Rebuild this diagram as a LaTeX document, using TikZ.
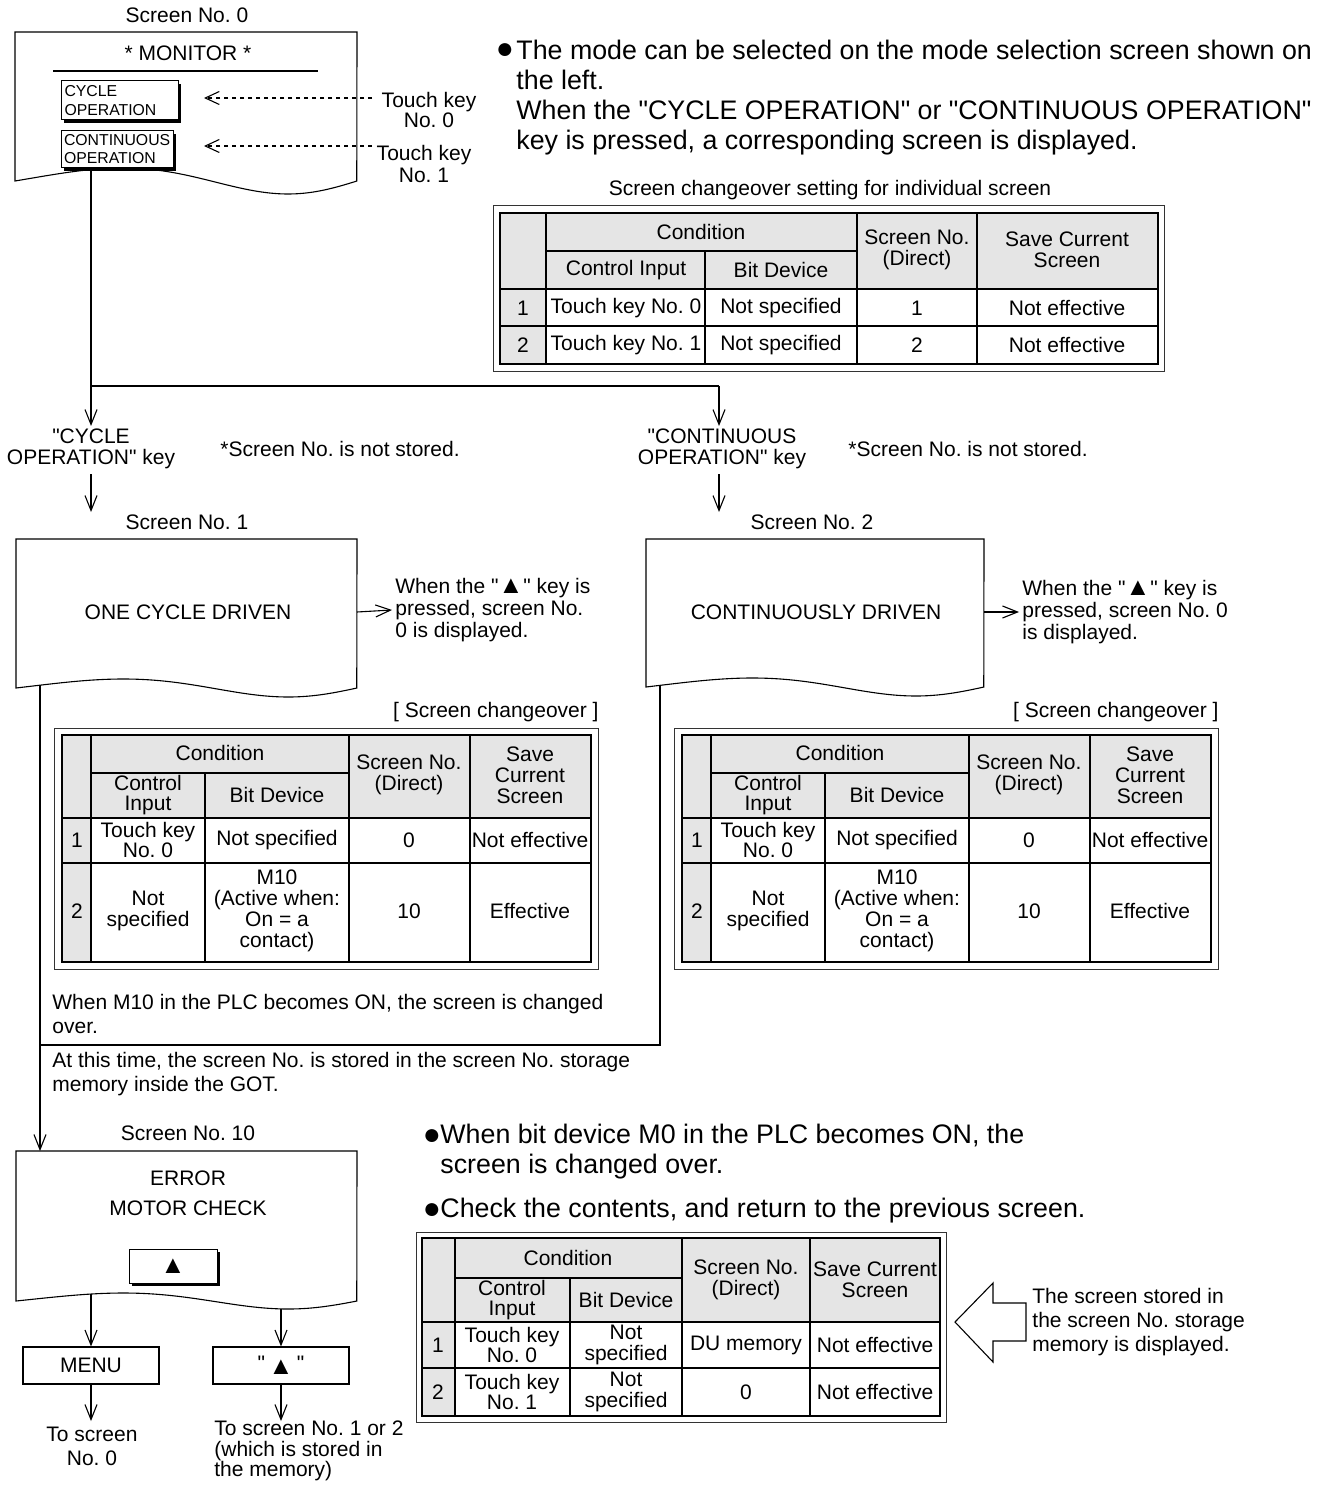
\documentclass[tikz,border=0pt]{standalone}
\usepackage{fontspec}
\setmainfont{Liberation Sans}[Ligatures=TeXOff]
\usetikzlibrary{arrows.meta,shadows}
\definecolor{hdr}{gray}{0.9}
\frenchspacing
\newcommand\fmid{\fontsize{10.5}{11}\selectfont}
\newcommand\fbig{\fontsize{13.4}{15}\selectfont}
\newcommand\fsmall{\fontsize{7.9}{9.5}\selectfont}
\newcommand\tri{{\fontsize{12.5}{11}\selectfont ▲}}
% screen outline with wavy bottom: x1 top x2 ybottom amplitude
\newcommand\screenbox[5]{%
  \draw[ln] plot[domain=0:1,samples=60,smooth] ({#1+(#3-#1)*\x},{#4-#5*sin(360*\x*(0.7+0.3*\x))}) -- (#3,#2) -- (#1,#2) -- cycle;}
\newcommand\midtable[2]{%
\begin{scope}[xshift=#2]
  \node[txt, anchor=east] (#1lab) at (599,712) {[ Screen changeover ]};
  \draw[tout] (54,728) rectangle (598,969);
  \fill[hdr] (62,735) rectangle (591,818);
  \fill[hdr] (62,818) rectangle (91,962);
  \draw[tg] (91,773) -- (349,773);
  \draw[tg] (62,818) -- (591,818);
  \draw[tg] (62,863) -- (591,863);
  \draw[tg] (91,735) -- (91,962);
  \draw[tg] (205,773) -- (205,962);
  \draw[tg] (349,735) -- (349,962);
  \draw[tg] (470,735) -- (470,962);
  \draw[tb] (62,735) rectangle (591,962);
  \node[cellt] (#1h1) at (220,753) {Condition};
  \node[cellt] (#1h2) at (148,795) {Control\\Input};
  \node[cellt] (#1h3) at (277,795) {Bit Device};
  \node[cellt] (#1h4) at (409,775) {Screen No.\\(Direct)};
  \node[cellt] (#1h5) at (530,775) {Save\\Current\\Screen};
  \node[cellt] (#1r1a) at (77,840) {1};
  \node[cellt] (#1r1b) at (148,840) {Touch key\\No. 0};
  \node[cellt] (#1r1c) at (277,840) {Not specified};
  \node[cellt] (#1r1d) at (409,840) {0};
  \node[cellt] (#1r1e) at (530,840) {Not effective};
  \node[cellt] (#1r2a) at (77,911) {2};
  \node[cellt] (#1r2b) at (148,911) {Not\\specified};
  \node[cellt] (#1r2c) at (277,911) {M10\\(Active when:\\On = a\\contact)};
  \node[cellt] (#1r2d) at (409,911) {10};
  \node[cellt] (#1r2e) at (530,911) {Effective};
\end{scope}}

\begin{document}
\begin{tikzpicture}[x=0.5pt,y=-0.5pt,
  ln/.style={line width=0.55pt},
  arr/.style={line width=0.55pt,-{Straight Barb[length=7.5pt,width=6pt]}},
  darr/.style={line width=0.55pt,dash pattern=on 2pt off 2pt,-{Straight Barb[length=7pt,width=6.5pt]}},
  txt/.style={inner sep=0pt,font=\fmid},
  txl/.style={inner sep=0pt,align=left},
  txc/.style={inner sep=0pt,align=center},
  cellt/.style={inner sep=0pt,align=center,font=\fontsize{10.5}{10.4}\selectfont},
  tb/.style={line width=0.8pt},
  tg/.style={line width=0.55pt},
  tout/.style={line width=0.5pt,draw=black!80},
  bul/.style={inner sep=0pt,font=\fontsize{15}{15}\selectfont},
  btn/.style={draw,fill=white,line width=0.5pt,drop shadow={shadow xshift=1.6pt,shadow yshift=-1.6pt,opacity=1,fill=black}},
  keybox/.style={draw,line width=0.55pt,minimum width=68pt,minimum height=18.5pt,inner sep=0pt,font=\fmid}
]
\useasboundingbox (0,0) rectangle (1337,1486);

% ---------------- Screen No. 0 ----------------
\node[txt] (lab0) at (187,15) {Screen No. 0};
\screenbox{15}{32}{357}{181}{13}
\node[txt] (mon) at (188,53) {* MONITOR *};
\draw[ln] (53,71) -- (318,71);
\node[btn,minimum width=58.5pt,minimum height=19.5pt,text width=55pt,align=left,inner sep=1.5pt,font=\fsmall] (btn1) at (119.5,100.5) {CYCLE\\OPERATION};
\node[btn,minimum width=56pt,minimum height=18.5pt,text width=53pt,align=left,inner sep=1.5pt,font=\fontsize{7.9}{9}\selectfont] (btn2) at (117,149.5) {CONTINUOUS\\OPERATION};
\node[txc,font=\fontsize{10.5}{10}\selectfont] (tk0) at (429,110) {Touch key\\No. 0};
\node[txc,font=\fontsize{10.5}{11}\selectfont] (tk1) at (424,164) {Touch key\\No. 1};
\coordinate (tk0s) at (372,98);
\coordinate (tk1s) at (372,146);
\coordinate (b1t) at (204,98);
\coordinate (b2t) at (204,146);
\draw[darr] (tk0s) -- (b1t);
\draw[darr] (tk1s) -- (b2t);

% ---------------- top right text and table ----------------
\node[bul] (bul0) at (505,51) {●};
\node[txl,anchor=west,font=\fbig] (intro) at (516,98) {The mode can be selected on the mode selection screen shown on\\the left.\\When the "CYCLE OPERATION" or "CONTINUOUS OPERATION"\\key is pressed, a corresponding screen is displayed.};
\node[txt] (t1title) at (830,190) {Screen changeover setting for individual screen};
\draw[tout] (493,206) rectangle (1164,372);
\fill[hdr] (500,213) rectangle (1158,289);
\fill[hdr] (500,289) rectangle (546,364);
\draw[tg] (546,251) -- (857,251);
\draw[tg] (500,289) -- (1158,289);
\draw[tg] (500,326) -- (1158,326);
\draw[tg] (546,213) -- (546,364);
\draw[tg] (705,251) -- (705,364);
\draw[tg] (857,213) -- (857,364);
\draw[tg] (977,213) -- (977,364);
\draw[tb] (500,213) rectangle (1158,364);
\node[cellt] (t1h1) at (701,232) {Condition};
\node[cellt] (t1h2) at (626,270) {Control Input};
\node[cellt] (t1h3) at (781,270) {Bit Device};
\node[cellt] (t1h4) at (917,250) {Screen No.\\(Direct)};
\node[cellt] (t1h5) at (1067,250) {Save Current\\Screen};
\node[cellt] (t1r1a) at (523,308) {1};
\node[cellt] (t1r1b) at (626,308) {Touch key No. 0};
\node[cellt] (t1r1c) at (781,308) {Not specified};
\node[cellt] (t1r1d) at (917,308) {1};
\node[cellt] (t1r1e) at (1067,308) {Not effective};
\node[cellt] (t1r2a) at (523,345) {2};
\node[cellt] (t1r2b) at (626,345) {Touch key No. 1};
\node[cellt] (t1r2c) at (781,345) {Not specified};
\node[cellt] (t1r2d) at (917,345) {2};
\node[cellt] (t1r2e) at (1067,345) {Not effective};

% ---------------- split ----------------
\coordinate (s0b) at (91,170);
\coordinate (sp) at (91,386);
\coordinate (spR) at (719,386);
\coordinate (ckin) at (91,426);
\coordinate (cckin) at (719,426);
\draw[ln] (s0b) -- (sp) -- (spR);
\draw[arr] (sp) -- (ckin);
\draw[arr] (spR) -- (cckin);
\node[txc,font=\fontsize{10.5}{10.5}\selectfont] (ck) at (91,449) {"CYCLE\\OPERATION" key};
\node[txt,anchor=west] (ns1) at (220,449) {*Screen No. is not stored.};
\node[txc,font=\fontsize{10.5}{10.5}\selectfont] (cck) at (722,449) {"CONTINUOUS\\OPERATION" key};
\node[txt,anchor=west] (ns2) at (848,449) {*Screen No. is not stored.};
\coordinate (ckout) at (91,474);
\coordinate (s1in) at (91,512);
\coordinate (cckout) at (719,474);
\coordinate (s2in) at (719,512);
\draw[arr] (ckout) -- (s1in);
\draw[arr] (cckout) -- (s2in);

% ---------------- Screen No. 1 / 2 ----------------
\node[txt] (lab1) at (187,522) {Screen No. 1};
\screenbox{16}{539}{357}{688}{9}
\node[txt] (one) at (188,612) {ONE CYCLE DRIVEN};
\node[txl,anchor=west,font=\fontsize{10.5}{11}\selectfont] (n1) at (395,610) {When the "\tri" key is\\pressed, screen No.\\0 is displayed.};
\coordinate (s1r) at (357,612);
\draw[arr] (s1r) -- ([xshift=-1.5pt]n1.west);

\node[txt] (lab2) at (812,522) {Screen No. 2};
\screenbox{646}{539}{984}{687}{9}
\node[txt] (cont) at (816,612) {CONTINUOUSLY DRIVEN};
\node[txl,anchor=west,font=\fontsize{10.5}{11}\selectfont] (n2) at (1022,612) {When the "\tri" key is\\pressed, screen No. 0\\is displayed.};
\coordinate (s2r) at (984,612);
\draw[arr] (s2r) -- ([xshift=-1.5pt]n2.west);

% ---------------- middle tables ----------------
\midtable{ma}{0pt}
\midtable{mb}{310pt}

\node[txl,anchor=west,font=\fontsize{10.5}{11.6}\selectfont] (m10) at (52,1014) {When M10 in the PLC becomes ON, the screen is changed\\over.};
\node[txl,anchor=west,font=\fontsize{10.5}{12}\selectfont] (att) at (52,1074) {At this time, the screen No. is stored in the screen No. storage\\memory inside the GOT.};

% connectors to screen 10
\coordinate (s1b) at (40,685);
\coordinate (s10in) at (40,1151);
\draw[arr] (s1b) -- (s10in);
\coordinate (s2b) at (660,685);
\coordinate (jn) at (660,1045);
\coordinate (jl) at (40,1045);
\draw[ln] (s2b) -- (jn) -- (jl);

% ---------------- Screen No. 10 ----------------
\node[txt] (lab10) at (188,1133) {Screen No. 10};
\screenbox{16}{1151}{357}{1301}{8}
\node[txc,font=\fontsize{10.5}{15}\selectfont] (err) at (188,1193) {ERROR\\MOTOR CHECK};
\node[btn,minimum width=44pt,minimum height=17pt,inner sep=0pt,font=\fmid] (upbtn) at (173,1266) {\tri};
\node[keybox] (menu) at (91,1365.5) {MENU};
\node[keybox] (trib) at (281,1365.5) {"\,\raisebox{-2pt}{\tri}\,"};
\coordinate (s10a) at (91,1294);
\coordinate (s10b) at (281,1309);
\draw[arr] (s10a) -- (menu.north);
\draw[arr] (s10b) -- (trib.north);
\coordinate (menuto) at (91,1421);
\coordinate (trito) at (281,1421);
\draw[arr] (menu.south) -- (menuto);
\draw[arr] (trib.south) -- (trito);
\node[txc,font=\fontsize{10.5}{12}\selectfont] (to0) at (92,1446) {To screen\\No. 0};
\node[txl,anchor=west,font=\fontsize{10.5}{10.3}\selectfont] (to12) at (214,1451) {To screen No. 1 or 2\\(which is stored in\\the memory)};

% ---------------- bottom right ----------------
\node[bul] (bul1) at (432,1137) {●};
\node[txl,anchor=west,font=\fbig] (bt1) at (440,1152) {When bit device M0 in the PLC becomes ON, the\\screen is changed over.};
\node[bul] (bul2) at (432,1211) {●};
\node[txl,anchor=west,font=\fbig] (bt2) at (440,1211) {Check the contents, and return to the previous screen.};

\draw[tout] (416,1232) rectangle (946,1422);
\fill[hdr] (422,1238) rectangle (940,1322);
\fill[hdr] (422,1322) rectangle (455,1416);
\draw[tg] (455,1278) -- (682,1278);
\draw[tg] (422,1322) -- (940,1322);
\draw[tg] (422,1368) -- (940,1368);
\draw[tg] (455,1238) -- (455,1416);
\draw[tg] (570,1278) -- (570,1416);
\draw[tg] (682,1238) -- (682,1416);
\draw[tg] (810,1238) -- (810,1416);
\draw[tb] (422,1238) rectangle (940,1416);
\node[cellt] (b1) at (568,1258) {Condition};
\node[cellt] (b2) at (512,1300) {Control\\Input};
\node[cellt] (b3) at (626,1300) {Bit Device};
\node[cellt] (b4) at (746,1280) {Screen No.\\(Direct)};
\node[cellt] (b5) at (875,1280) {Save Current\\Screen};
\node[cellt] (br1a) at (438,1345) {1};
\node[cellt] (br1b) at (512,1345) {Touch key\\No. 0};
\node[cellt] (br1c) at (626,1345) {Not\\specified};
\node[cellt] (br1d) at (746,1345) {DU memory};
\node[cellt] (br1e) at (875,1345) {Not effective};
\node[cellt] (br2a) at (438,1392) {2};
\node[cellt] (br2b) at (512,1392) {Touch key\\No. 1};
\node[cellt] (br2c) at (626,1392) {Not\\specified};
\node[cellt] (br2d) at (746,1392) {0};
\node[cellt] (br2e) at (875,1392) {Not effective};

\draw[ln] (955,1322) -- (993,1283) -- (993,1303) -- (1026,1303) -- (1026,1341) -- (993,1341) -- (993,1362) -- cycle;
\node[txl,anchor=west,font=\fontsize{10.5}{12.2}\selectfont] (stored) at (1032,1322) {The screen stored in\\the screen No. storage\\memory is displayed.};
\end{tikzpicture}
\end{document}
